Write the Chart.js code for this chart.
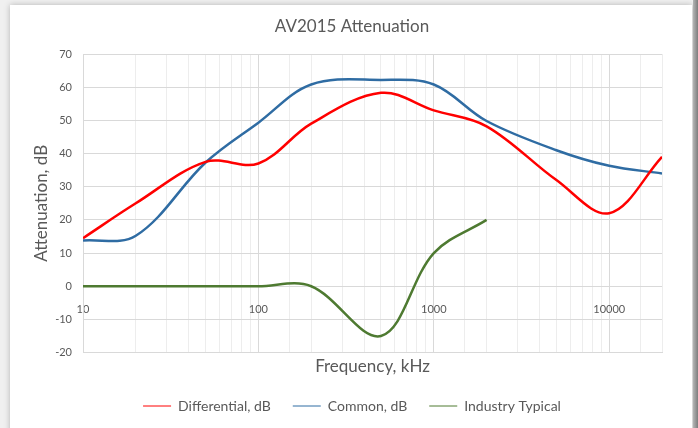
<!DOCTYPE html>
<html>
<head>
<meta charset="utf-8">
<script src="https://cdn.jsdelivr.net/npm/chart.js@4.4.1/dist/chart.umd.min.js"></script>
<style>
    body {
        margin: 0;
        width: 698px;
        height: 428px;
        overflow: hidden;
        background: #f0f0f0;
        position: relative;
    }
    .panel {
        position: absolute;
        left: 10px;
        top: 5px;
        width: 682px;
        height: 430px;
        background: #fff;
        box-shadow: 0 0 6px rgba(0, 0, 0, 0.25);
    }
    .edge {
        position: absolute;
        left: 693px;
        top: 0;
        width: 5px;
        height: 428px;
        background: linear-gradient(to right, #b5b5b5, #7d7d7d);
    }
    canvas {
        position: absolute;
        left: 0;
        top: 0;
    }
</style>
</head>
<body>
<div class="panel">
    <canvas id="chart" width="682" height="423"></canvas>
</div>
<div class="edge"></div>

<script>
// ========================
// DADOS
// ========================
const freq = [10, 20, 50, 100, 200, 500, 1000, 2000, 5000, 10000, 20000];

const differential = [14.5, 25, 37.5, 37, 49, 58.3, 53, 48.2, 32, 22, 39];
const common = [13.8, 15.2, 37.3, 49.3, 60.8, 62.2, 60.8, 49.8, 41, 36.3, 34];
const industry = [0, 0, 0, 0, 0, -15, 10, 20];

const freqLabels = [10, 100, 1000, 10000];

const FONT = 'Lato, "Open Sans", sans-serif';
const TEXT = '#595959';

function toPoints(values) {
    return values.map((v, i) => ({ x: freq[i], y: v }));
}

function isDecade(v) {
    const l = Math.log10(v);
    return Math.abs(l - Math.round(l)) < 1e-9;
}

// ========================
// GRÁFICO
// ========================
new Chart(document.getElementById('chart'), {
    type: 'line',
    data: {
        datasets: [
            {
                label: 'Differential, dB',
                data: toPoints(differential),
                borderColor: '#ff0000',
                backgroundColor: '#ff0000'
            },
            {
                label: 'Common, dB',
                data: toPoints(common),
                borderColor: '#2f6ca3',
                backgroundColor: '#2f6ca3'
            },
            {
                label: 'Industry Typical',
                data: toPoints(industry),
                borderColor: '#4e7a31',
                backgroundColor: '#4e7a31'
            }
        ]
    },
    options: {
        responsive: false,
        animation: false,
        parsing: false,
        elements: {
            line: { borderWidth: 2.5, tension: 0.35 },
            point: { radius: 0 }
        },
        layout: {
            padding: { left: 32, right: 30, top: 0, bottom: 5 }
        },
        plugins: {
            tooltip: { enabled: false },
            title: {
                display: true,
                text: 'AV2015 Attenuation',
                color: TEXT,
                font: { family: FONT, size: 17, weight: 'normal' },
                padding: { top: 11, bottom: 17.6 }
            },
            legend: {
                position: 'bottom',
                labels: {
                    usePointStyle: true,
                    pointStyle: 'line',
                    pointStyleWidth: 28,
                    padding: 22,
                    color: TEXT,
                    font: { family: FONT, size: 14 }
                }
            }
        },
        scales: {
            x: {
                type: 'logarithmic',
                position: 'bottom',
                min: 10,
                max: 20000,
                ticks: { display: false, autoSkip: false },
                grid: {
                    drawTicks: false,
                    color: ctx => isDecade(ctx.tick.value) ? '#d9d9d9' : '#ededed'
                },
                border: { color: '#d9d9d9' },
                title: {
                    display: true,
                    text: 'Frequency, kHz',
                    color: TEXT,
                    font: { family: FONT, size: 17 },
                    padding: { top: 4, bottom: 0 }
                }
            },
            x2: {
                type: 'logarithmic',
                axis: 'x',
                position: { y: 0 },
                min: 10,
                max: 20000,
                afterBuildTicks: scale => {
                    scale.ticks = freqLabels.map(v => ({ value: v }));
                },
                ticks: {
                    autoSkip: false,
                    maxRotation: 0,
                    padding: 9,
                    color: TEXT,
                    font: { family: FONT, size: 11 },
                    callback: v => String(v)
                },
                grid: { display: false },
                border: { display: false }
            },
            y: {
                min: -20,
                max: 70,
                afterFit: scale => { scale.width = 41; },
                ticks: {
                    stepSize: 10,
                    padding: 11,
                    color: TEXT,
                    font: { family: FONT, size: 11 }
                },
                grid: { drawTicks: false, color: '#d9d9d9' },
                border: { color: '#d9d9d9' },
                title: {
                    display: true,
                    text: 'Attenuation, dB',
                    color: TEXT,
                    font: { family: FONT, size: 17 },
                    padding: { top: -11, bottom: 0 }
                }
            }
        }
    }
});
</script>
</body>
</html>
